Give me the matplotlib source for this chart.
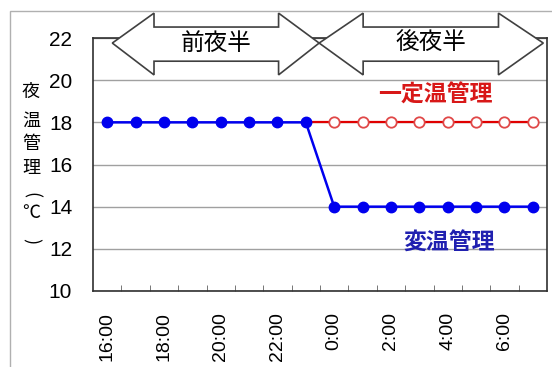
import numpy as np
import matplotlib.pyplot as plt
from matplotlib.patches import Polygon, Rectangle

plt.rcParams['font.family'] = ['Noto Sans CJK JP', 'DejaVu Sans']
num_font = ['Liberation Sans', 'DejaVu Sans']

hours = ['16:00', '17:00', '18:00', '19:00', '20:00', '21:00', '22:00', '23:00',
         '0:00', '1:00', '2:00', '3:00', '4:00', '5:00', '6:00', '7:00']
hensu = [18, 18, 18, 18, 18, 18, 18, 18, 14, 14, 14, 14, 14, 14, 14, 14]
ittei = [np.nan] * 7 + [18, 18, 18, 18, 18, 18, 18, 18, 18]
yticks = [10, 12, 14, 16, 18, 20, 22]

blue = '#0000ee'
red = '#e00000'

fig = plt.figure(figsize=(5.52, 3.67), dpi=100)
fig.patches.append(Rectangle((10 / 552, -0.1), 1.2, 1 - 11 / 367 + 0.1,
                             transform=fig.transFigure, fill=False,
                             edgecolor='#b0b0b0', lw=1))
ax = fig.add_axes([93 / 552, 76 / 367, 454 / 552, 253 / 367])

x = np.arange(len(hours))
ax.plot(x, ittei, color=red, lw=1.6, zorder=3)
ax.plot(x[8:], ittei[8:], 'o', ms=7.5, mfc='white', mec='#e04848', mew=1.3, zorder=4)
ax.plot(x, hensu, color=blue, lw=1.8, marker='o', ms=7.5, mfc=blue, mec=blue, zorder=5)

ax.set_xlim(-0.5, 15.5)
ax.set_ylim(10, 22)
ax.set_yticks(yticks)
ax.set_yticklabels([str(v) for v in yticks], family=num_font, fontsize=15)
ax.tick_params(axis='y', length=0, pad=15)
ax.yaxis.grid(True, color='#a0a0a0', lw=1)
ax.set_axisbelow(True)
ax.set_xticks(x[::2])
ax.set_xticklabels(hours[::2], rotation=90, family=num_font, fontsize=14)
ax.set_xticks(np.arange(15) + 0.5, minor=True)
ax.tick_params(axis='x', which='major', length=0, pad=15)
ax.tick_params(axis='x', which='minor', direction='in', length=4, color='#606060')
for s in ax.spines.values():
    s.set_color('#303030')
    s.set_linewidth(1.2)

# double-headed block arrows above the plot
def block_arrow(x0, x1, x2, x3):
    yt, ys1, ymid, ys2, yb = 23.18, 22.52, 21.76, 20.9, 20.25
    pts = [(x0, ymid), (x1, yt), (x1, ys1), (x2, ys1), (x2, yt), (x3, ymid),
           (x2, yb), (x2, ys2), (x1, ys2), (x1, yb)]
    ax.add_patch(Polygon(pts, closed=True, facecolor='white', edgecolor='#404040',
                         lw=1.2, clip_on=False, zorder=6))

block_arrow(0.18, 1.65, 6.04, 7.47)
block_arrow(7.47, 9.02, 13.79, 15.37)
ax.text(3.85, 21.72, '前夜半', ha='center', va='center', fontsize=17, zorder=7)
ax.text(11.4, 21.72, '後夜半', ha='center', va='center', fontsize=17, zorder=7)

ax.text(11.55, 19.3, '一定温管理', color='#d81818', ha='center', va='center',
        fontsize=16.5, fontweight='bold')
ax.text(12.05, 12.25, '変温管理', color='#2020b0', ha='center', va='center',
        fontsize=16.5, fontweight='bold')

# vertical y-axis title, one character per line
ylab_chars = ['夜', '温', '管', '理', '(', '℃', ')']
ylab_rows = [92, 121, 144, 168, 195, 213, 241]
for ch, row in zip(ylab_chars, ylab_rows):
    rot = -90 if ch in '()' else 0
    fig.text(31 / 552, 1 - row / 367, ch, ha='center', va='center',
             fontsize=13, rotation=rot, rotation_mode='anchor')

fig.savefig('out.png')
